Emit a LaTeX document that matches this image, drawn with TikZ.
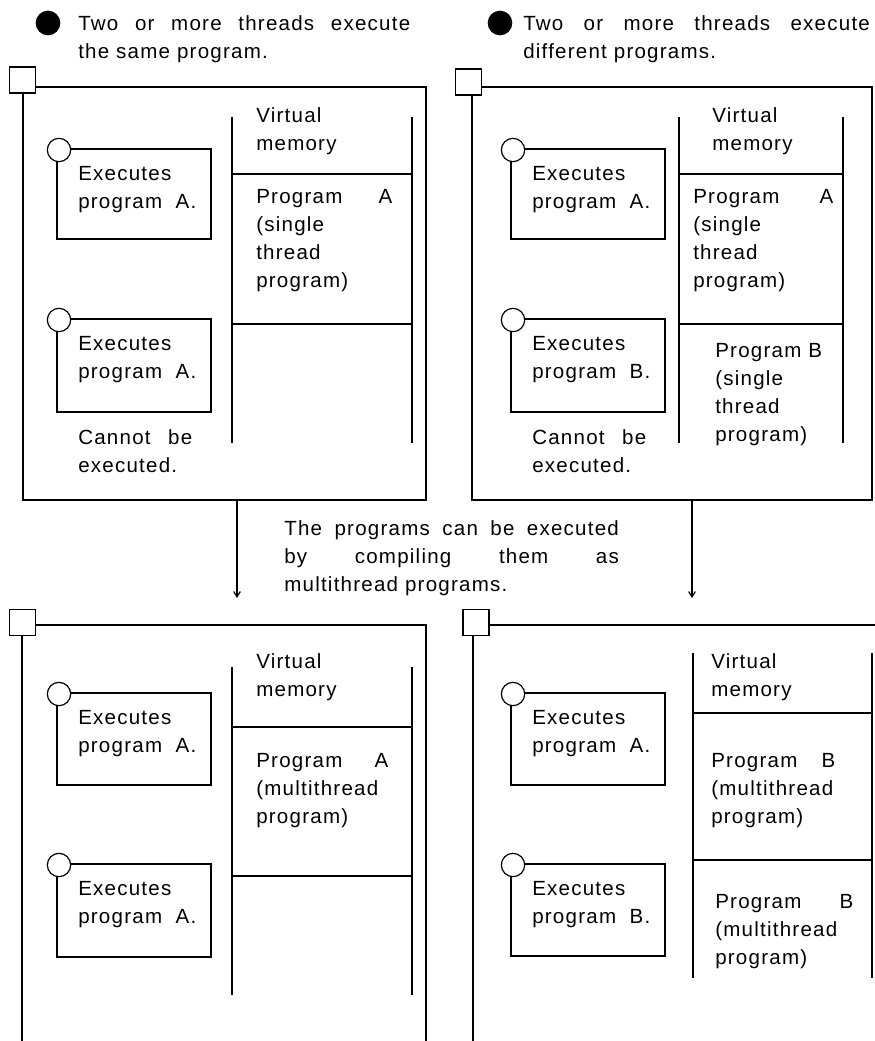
\documentclass[tikz,border=0pt]{standalone}
\usepackage{fontspec}
\setmainfont{Liberation Sans}[LetterSpace=6]
\usetikzlibrary{arrows.meta}

\tikzset{
  wire/.style={line width=0.9pt},
  txt/.style={font=\fontsize{15.4}{21}\selectfont, inner sep=0pt, anchor=base west, align=left},
  tag/.style={draw, line width=0.9pt, fill=white, minimum size=19.5pt, inner sep=0pt},
  knob/.style={circle, draw, line width=0.9pt, fill=white, minimum size=17.5pt, inner sep=0pt},
  dot/.style={circle, fill, minimum size=18.5pt, inner sep=0pt},
  flow/.style={line width=0.9pt, -{Straight Barb[length=4pt,width=5pt]}}
}

\begin{document}
\begin{tikzpicture}[x=0.75pt, y=-0.75pt]
  \fill[white] (0,0) rectangle (874,1041);
  \useasboundingbox (0,0) rectangle (874,1041);

  % captions (base = last line)
  \node[dot] (dotL) at (48,23) {};
  \node[dot] (dotR) at (500,23) {};
  \node[txt] (capL) at (78,59) {\makebox[249pt][s]{Two or more threads execute}\\the same program.};
  \node[txt] (capR) at (523,59) {\makebox[260pt][s]{Two or more threads execute}\\different programs.};

  % process frames
  \draw[wire] (23,87) rectangle (426,500);
  \draw[wire] (472,87) rectangle (872,500);
  \draw[wire] (22,1045) -- (22,625) -- (426,625) -- (426,1045);
  \draw[wire] (473,1045) -- (473,625) -- (880,625);
  \node[tag] (pTL) at (22.5,80) {};
  \node[tag] (pTR) at (468.5,82) {};
  \node[tag] (pBL) at (22.5,622.5) {};
  \node[tag] (pBR) at (476,622.5) {};

  % virtual memory columns
  \foreach \lx/\rx/\ya/\yb/\yc/\yd in {232/412/117/174/324/443, 679/843/117/174/324/443,
      232/412/667/727/876/995, 693/872/653/713/860/978} {
    \draw[wire] (\lx,\ya) -- (\lx,\yd) (\rx,\ya) -- (\rx,\yd) (\lx,\yb) -- (\rx,\yb) (\lx,\yc) -- (\rx,\yc);
  }

  % threads
  \foreach \n/\x/\y/\h/\p in {tl1/57/149/90/A, tl2/57/319/93/A, tr1/511/149/90/A, tr2/511/319/93/B,
      bl1/57/693/92/A, bl2/57/864/93/A, br1/511/693/92/A, br2/511/864/92/B} {
    \draw[wire] (\x,\y) rectangle ++(154,\h);
    \node[txt] (\n-txt) at (\x+21,\y+59.5) {Executes\\\makebox[88.5pt][s]{program \p.}};
    \node[knob] (\n) at (\x+2,\y+1) {};
  }
  \node[txt] (noL) at (78,472) {\makebox[85.5pt][s]{Cannot be}\\executed.};
  \node[txt] (noR) at (532,472) {\makebox[85.5pt][s]{Cannot be}\\executed.};

  % memory contents
  \node[txt] (vmTL) at (256,151) {Virtual\\memory};
  \node[txt] (vmTR) at (712,151) {Virtual\\memory};
  \node[txt] (vmBL) at (256,696) {Virtual\\memory};
  \node[txt] (vmBR) at (711,696) {Virtual\\memory};
  \node[txt] (pgTL) at (256,287) {\makebox[102pt][s]{Program A}\\(single\\thread\\program)};
  \node[txt] (pgTR) at (693,287) {\makebox[105pt][s]{Program A}\\(single\\thread\\program)};
  \node[txt] (pgTRb) at (715,441) {Program B\\(single\\thread\\program)};
  \node[txt] (pgBL) at (256,823) {\makebox[99pt][s]{Program A}\\(multithread\\program)};
  \node[txt] (pgBR) at (711,823) {\makebox[93pt][s]{Program B}\\(multithread\\program)};
  \node[txt] (pgBRb) at (715,964) {\makebox[103.5pt][s]{Program B}\\(multithread\\program)};

  % recompiling
  \node[txt] (note) at (284,591) {\makebox[251pt][s]{The programs can be executed}\\\makebox[251pt][s]{by compiling them as}\\multithread programs.};
  \coordinate (outL) at (237,500);
  \coordinate (inL) at (237,598);
  \coordinate (outR) at (692,500);
  \coordinate (inR) at (692,598);
  \draw[flow] (outL) -- (inL);
  \draw[flow] (outR) -- (inR);
\end{tikzpicture}
\end{document}
